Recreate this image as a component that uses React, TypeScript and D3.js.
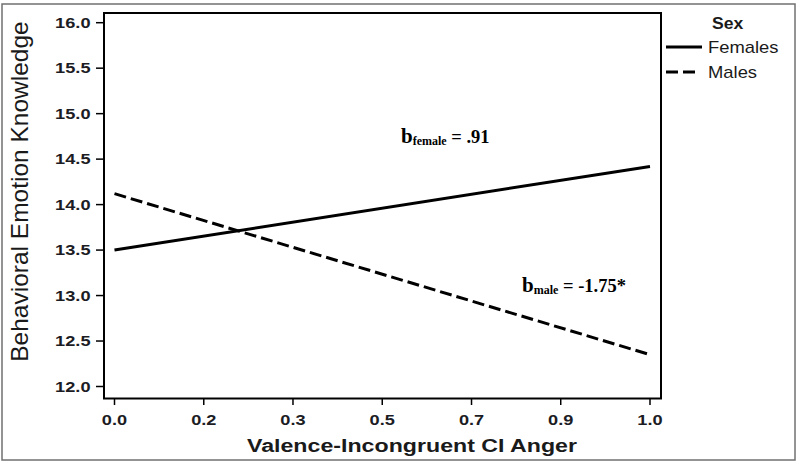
import React from "react";
import * as d3 from "d3";

// ---- data ----
const xPoints = [0, 1];
const femaleValues = [13.5, 14.42];
const maleValues = [14.12, 12.35];
const seriesNames = ["Females", "Males"];
const legendTitle = "Sex";
const xTickValues = [0, 0.1667, 0.3333, 0.5, 0.6667, 0.8333, 1];
const xTickLabels = ["0.0", "0.2", "0.3", "0.5", "0.7", "0.9", "1.0"];
const yTickValues = [12, 12.5, 13, 13.5, 14, 14.5, 15, 15.5, 16];
const yTickLabels = ["12.0", "12.5", "13.0", "13.5", "14.0", "14.5", "15.0", "15.5", "16.0"];
const xTitle = "Valence-Incongruent CI Anger";
const yTitle = "Behavioral Emotion Knowledge";
const annFemale = { b: "b", sub: "female", rest: " = .91" };
const annMale = { b: "b", sub: "male", rest: " = -1.75*" };

const W = 800;
const H = 464;
const frame = { left: 104, right: 661, top: 13, bottom: 398.5 };

export default function App() {
  const x = d3.scaleLinear().domain([0, 1]).range([114.5, 650]);
  const y = d3.scaleLinear().domain([12, 16]).range([386.5, 22.7]);
  const line = d3
    .line<[number, number]>()
    .x((d) => x(d[0]))
    .y((d) => y(d[1]));
  const femalePts = xPoints.map((v, i) => [v, femaleValues[i]] as [number, number]);
  const malePts = xPoints.map((v, i) => [v, maleValues[i]] as [number, number]);
  const sans = "'Liberation Sans', Arial, sans-serif";
  const serif = "'Liberation Serif', 'Times New Roman', serif";
  const tickColor = "#1c1c24";

  return (
    <svg
      width={W}
      height={H}
      style={{ position: "absolute", left: 0, top: 0, background: "#fff" }}
    >
      <rect x={0} y={0} width={W} height={H} fill="#fff" />
      {/* outer border */}
      <rect x={2} y={4} width={793} height={456} fill="none" stroke="#707070" strokeWidth={1.5} />

      {/* y-axis title */}
      <text
        transform={`translate(27.5, 191.5) rotate(-90)`}
        textAnchor="middle"
        fontFamily={sans}
        fontSize={24.5}
        fill="#1a1a1a"
      >
        {yTitle}
      </text>

      {/* y ticks */}
      {yTickValues.map((v, i) => (
        <g key={"yt" + i}>
          <line x1={96} x2={frame.left} y1={y(v)} y2={y(v)} stroke="#000" strokeWidth={1.5} />
          <text
            transform={`translate(90.5, ${y(v) + 5}) scale(1.3,1)`}
            textAnchor="end"
            fontFamily={sans}
            fontWeight="bold"
            fontSize={14}
            fill={tickColor}
          >
            {yTickLabels[i]}
          </text>
        </g>
      ))}

      {/* x ticks */}
      {xTickValues.map((v, i) => (
        <g key={"xt" + i}>
          <line x1={x(v)} x2={x(v)} y1={frame.bottom} y2={405} stroke="#000" strokeWidth={1.5} />
          <text
            transform={`translate(${x(v)}, 425) scale(1.3,1)`}
            textAnchor="middle"
            fontFamily={sans}
            fontWeight="bold"
            fontSize={14}
            fill={tickColor}
          >
            {xTickLabels[i]}
          </text>
        </g>
      ))}

      {/* x title */}
      <text
        transform={`translate(412, 452) scale(1.22,1)`}
        textAnchor="middle"
        fontFamily={sans}
        fontWeight="bold"
        fontSize={19}
        fill="#1a1a1a"
      >
        {xTitle}
      </text>

      {/* plot frame */}
      <rect
        x={frame.left}
        y={frame.top}
        width={frame.right - frame.left}
        height={frame.bottom - frame.top}
        fill="none"
        stroke="#000"
        strokeWidth={2}
      />

      {/* lines */}
      <path d={line(femalePts) || ""} fill="none" stroke="#000" strokeWidth={3} />
      <path
        d={line(malePts) || ""}
        fill="none"
        stroke="#000"
        strokeWidth={3}
        strokeDasharray="12 5"
      />

      {/* annotations */}
      <text x={401} y={143} fontFamily={serif} fontWeight="bold" fontSize={21} fill="#000">
        {annFemale.b}
        <tspan fontSize={12} dy={1.5}>{annFemale.sub}</tspan>
        <tspan fontSize={18.5} dy={-1.5}>{annFemale.rest}</tspan>
      </text>
      <text x={522} y={292} fontFamily={serif} fontWeight="bold" fontSize={21} fill="#000">
        {annMale.b}
        <tspan fontSize={12} dy={1.5}>{annMale.sub}</tspan>
        <tspan fontSize={18.5} dy={-1.5}>{annMale.rest}</tspan>
      </text>

      {/* legend */}
      <text
        transform={`translate(712, 28.5) scale(1.1,1)`}
        fontFamily={sans}
        fontWeight="bold"
        fontSize={16}
        fill="#1a1a1a"
      >
        {legendTitle}
      </text>
      <line x1={666} x2={702} y1={47} y2={47} stroke="#000" strokeWidth={3} />
      <text
        transform={`translate(708, 53) scale(1.15,1)`}
        fontFamily={sans}
        fontSize={16}
        fill="#1a1a1a"
      >
        {seriesNames[0]}
      </text>
      <line x1={666} x2={697} y1={72} y2={72} stroke="#000" strokeWidth={3} strokeDasharray="12 5" />
      <text
        transform={`translate(708, 78) scale(1.15,1)`}
        fontFamily={sans}
        fontSize={16}
        fill="#1a1a1a"
      >
        {seriesNames[1]}
      </text>
    </svg>
  );
}
